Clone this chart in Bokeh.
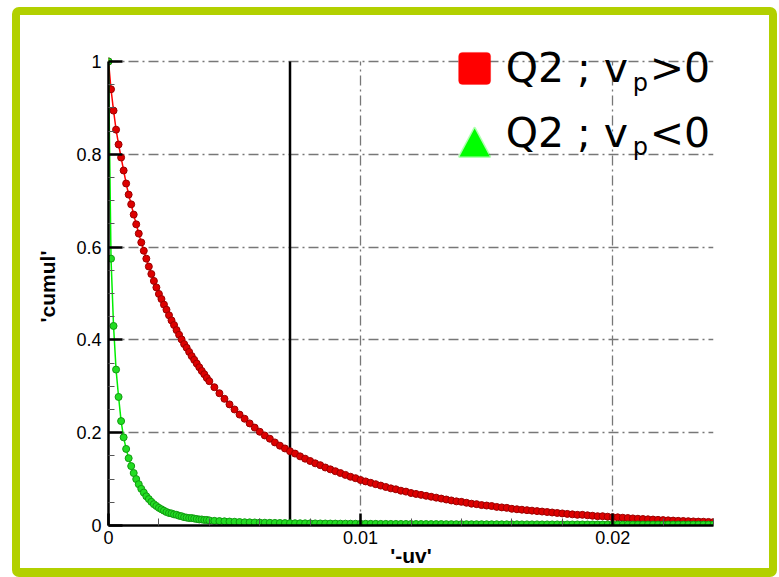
import numpy as np
from bokeh.plotting import figure
from bokeh.models import (FixedTicker, Label, BoxAnnotation, PolyAnnotation,
                          CustomJSTickFormatter, ColumnDataSource)
from bokeh.embed import file_html
from bokeh.resources import INLINE

# ---------------- data ----------------
# sampling of '-uv': fine steps of 1e-4 up to 0.004, then steps of 2e-4 up to 0.024
uv_fine = np.round(np.arange(0, 41) * 1e-4, 6)
uv_coarse = np.round(0.004 + np.arange(1, 101) * 2e-4, 6)
uv = np.concatenate([uv_fine, uv_coarse])

red_fine = [1.000, 0.940, 0.894, 0.853, 0.821, 0.793, 0.765, 0.737, 0.713, 0.692,
            0.670, 0.649, 0.629, 0.610, 0.592, 0.575, 0.558, 0.542, 0.527, 0.513,
            0.499, 0.488, 0.476, 0.465, 0.453, 0.442, 0.432, 0.421, 0.411, 0.401,
            0.391, 0.383, 0.374, 0.365, 0.357, 0.349, 0.341, 0.333, 0.326, 0.318,
            0.311]
red_coarse = [0.298, 0.285, 0.273, 0.261, 0.250, 0.239, 0.230, 0.220, 0.211, 0.202,
              0.194, 0.187, 0.179, 0.172, 0.166, 0.160, 0.155, 0.149, 0.144, 0.139,
              0.134, 0.130, 0.125, 0.121, 0.117, 0.113, 0.109, 0.105, 0.102, 0.098,
              0.095, 0.092, 0.089, 0.086, 0.083, 0.080, 0.078, 0.075, 0.073, 0.070,
              0.068, 0.066, 0.064, 0.062, 0.060, 0.058, 0.056, 0.054, 0.052, 0.051,
              0.049, 0.047, 0.046, 0.044, 0.043, 0.042, 0.040, 0.039, 0.038, 0.036,
              0.035, 0.034, 0.033, 0.032, 0.031, 0.030, 0.029, 0.028, 0.027, 0.026,
              0.025, 0.024, 0.023, 0.023, 0.022, 0.021, 0.020, 0.020, 0.019, 0.018,
              0.0176, 0.0168, 0.0161, 0.0153, 0.0146, 0.0140, 0.0134, 0.0128, 0.0122, 0.0116,
              0.0111, 0.0106, 0.0101, 0.0097, 0.0093, 0.0088, 0.0084, 0.0081, 0.0077, 0.0073]

green_fine = [1.000, 0.575, 0.430, 0.336, 0.277, 0.225, 0.190, 0.165, 0.145, 0.128,
              0.113, 0.100, 0.089, 0.079, 0.071, 0.063, 0.057, 0.051, 0.046, 0.042,
              0.038, 0.035, 0.032, 0.029, 0.027, 0.026, 0.024, 0.023, 0.021, 0.020,
              0.018, 0.017, 0.016, 0.016, 0.015, 0.014, 0.013, 0.013, 0.012, 0.012,
              0.011]
green_coarse = [0.0100, 0.0095, 0.0090, 0.0085, 0.0080, 0.0075, 0.0070, 0.0068, 0.0065, 0.0062,
                0.0060, 0.0058, 0.0056, 0.0054, 0.0052, 0.0050, 0.0049, 0.0048, 0.0047, 0.0046,
                0.0045, 0.0044, 0.0043, 0.0042, 0.0041, 0.0040, 0.0040, 0.0039, 0.0038, 0.0038,
                0.0037, 0.0036, 0.0036, 0.0035, 0.0035, 0.0034, 0.0034, 0.0033, 0.0033, 0.0032,
                0.0032, 0.0031, 0.0031, 0.0030, 0.0030, 0.0030, 0.0029, 0.0029, 0.0028, 0.0028,
                0.0028, 0.0027, 0.0027, 0.0027, 0.0026, 0.0026, 0.0026, 0.0025, 0.0025, 0.0025,
                0.0025, 0.0024, 0.0024, 0.0024, 0.0024, 0.0023, 0.0023, 0.0023, 0.0023, 0.0022,
                0.0022, 0.0022, 0.0022, 0.0022, 0.0021, 0.0021, 0.0021, 0.0021, 0.0021, 0.0020,
                0.0020, 0.0020, 0.0020, 0.0020, 0.0020, 0.0020, 0.0020, 0.0020, 0.0020, 0.0020,
                0.0020, 0.0020, 0.0020, 0.0020, 0.0020, 0.0020, 0.0020, 0.0020, 0.0020, 0.0020]

cumul_red = red_fine + red_coarse        # Q2 ; v_p > 0
cumul_green = green_fine + green_coarse  # Q2 ; v_p < 0

x_major = [0, 0.01, 0.02]
x_minor = [0.002, 0.004, 0.006, 0.008, 0.012, 0.014, 0.016, 0.018, 0.022, 0.024]
y_major = [0, 0.2, 0.4, 0.6, 0.8, 1.0]
y_minor = [0.05, 0.1, 0.15, 0.25, 0.3, 0.35, 0.45, 0.5, 0.55, 0.65, 0.7, 0.75, 0.85, 0.9, 0.95]
threshold_uv = 0.0072
x_label = "'-uv'"
y_label = "'cumul'"
legend_text = ["Q2 ; v", "p", ">0", "<0"]

# ---------------- figure ----------------
GREEN_FRAME = "#b2d000"
Y_TOP = 1.03   # a little head-room above the axis (axis itself stops at 1)
# note: the canvas ends up as large as the bordered box (765 x 570), drawn inside the border
p = figure(width=749, height=553, x_range=(0, 0.024), y_range=(0, Y_TOP),
           output_backend="svg", toolbar_location=None,
           min_border_left=88, min_border_right=72, min_border_top=32, min_border_bottom=60,
           background_fill_color="white", border_fill_color="white",
           styles={"box-sizing": "content-box", "border-style": "solid",
                   "border-color": GREEN_FRAME, "border-width": "8px 8px 9px 8px",
                   "border-radius": "7px", "margin-left": "12px", "margin-top": "7px"})
p.outline_line_color = None

fmt = CustomJSTickFormatter(code="return String(Number(tick.toFixed(4)))")

for ax, maj, mnr, mlen, nlen in ((p.xaxis[0], x_major, x_minor, 12, 7),
                                  (p.yaxis[0], y_major, y_minor, 14, 6)):
    ax.ticker = FixedTicker(ticks=maj, minor_ticks=mnr)
    ax.formatter = fmt
    ax.axis_line_color = "black"
    ax.axis_line_width = 2.5
    ax.major_tick_in = mlen
    ax.major_tick_out = 0
    ax.major_tick_line_width = 2.5
    ax.minor_tick_in = nlen
    ax.minor_tick_out = 0
    ax.minor_tick_line_width = 1
    ax.minor_tick_line_color = "#555555"
    ax.major_label_text_font = "Liberation Sans"
    ax.major_label_text_font_size = "18px"
    ax.major_label_text_color = "black"
    ax.axis_label_text_font = "Liberation Sans"
    ax.axis_label_text_font_style = "bold"
    ax.axis_label_text_font_size = "21px"
    ax.axis_label_text_color = "black"

p.yaxis.bounds = (0, 1)
p.xaxis.axis_label = x_label
p.yaxis.axis_label = y_label
p.xaxis.major_label_standoff = 5
p.xaxis.axis_label_standoff = -3
p.yaxis.major_label_standoff = 7
p.yaxis.axis_label_standoff = 14

p.xgrid.ticker = FixedTicker(ticks=[t for t in x_major if t > 0])
p.ygrid.ticker = FixedTicker(ticks=[t for t in y_major if t > 0])
for g in (p.xgrid[0], p.ygrid[0]):
    g.grid_line_color = "#777777"
    g.grid_line_width = 1.3
    g.grid_line_dash = "10 4 2 4"
if "cross_bounds" in p.xgrid[0].properties():
    p.xgrid[0].cross_bounds = (0, 1)

# vertical threshold line
p.segment(x0=[threshold_uv], y0=[0], x1=[threshold_uv], y1=[1],
          line_color="black", line_width=2.5)

src_r = ColumnDataSource(dict(x=uv, y=cumul_red))
src_g = ColumnDataSource(dict(x=uv, y=cumul_green))
p.line("x", "y", source=src_r, line_color="#ff0000", line_width=1.5)
p.scatter("x", "y", source=src_r, size=7, fill_color="#dd0000", line_color="#9a0000", line_width=1)
p.line("x", "y", source=src_g, line_color="#00ee00", line_width=1.5)
p.scatter("x", "y", source=src_g, size=7, fill_color="#22dd22", line_color="#119911", line_width=1)

# ---------------- legend (top right, drawn as annotations) ----------------
def dx(px):  # picture pixel -> data x
    return (px - 108) / 25200.0

def dy(py):  # picture pixel -> data y
    return (525 - py) / 464.0

p.add_layout(BoxAnnotation(left=dx(458), right=dx(490), top=dy(52), bottom=dy(84),
                           fill_color="#ff0000", fill_alpha=1, line_color="#ff0000",
                           border_radius=4, level="overlay"))
p.add_layout(PolyAnnotation(xs=[dx(459), dx(489), dx(474)], ys=[dy(156), dy(156), dy(128)],
                            fill_color="#00ff00", fill_alpha=1, line_color="#00ff00",
                            line_width=3, line_join="round", level="overlay"))

big = dict(text_font="DejaVu Sans", text_font_size="41px", text_color="black",
           text_baseline="alphabetic", text_align="left", level="overlay", y_offset=15)
small = dict(text_font="DejaVu Sans", text_font_size="24px", text_color="black",
             text_baseline="alphabetic", text_align="left", level="overlay", y_offset=15)
for base, sub, tail in ((83, 98, legend_text[2]), (148, 162, legend_text[3])):
    p.add_layout(Label(x=dx(505), y=dy(base), text=legend_text[0], **big))
    p.add_layout(Label(x=dx(632), y=dy(sub), text=legend_text[1], **small))
    p.add_layout(Label(x=dx(649), y=dy(base), text=tail, **big))

open("out.html", "w").write(file_html(p, INLINE))
